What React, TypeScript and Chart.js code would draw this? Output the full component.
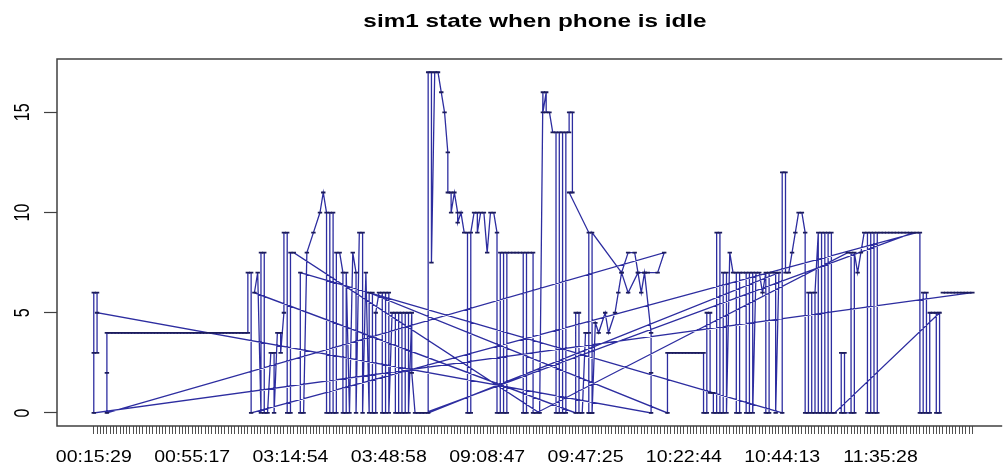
import React, { useEffect, useRef } from "react";
import { Chart, registerables } from "chart.js";

Chart.register(...registerables);

const chartTitle = "sim1 state when phone is idle";
const timeTickLabels = ["00:15:29", "00:55:17", "03:14:54", "03:48:58", "09:08:47", "09:47:25", "10:22:44", "10:44:13", "11:35:28"];
const timeTickSlots = [0, 30, 60, 90, 120, 150, 180, 210, 240];
const slotCount = 269;
const stateTicks = [0, 5, 10, 15];

// records: [time slot index, sim1 state], in recording order, grouped by run
const runEvening = [[259,6],[260,6],[261,6],[262,6],[263,6],[264,6],[265,6],[266,6],[267,6],[268,6]];
const runDawn = [[0,0],[0,3],[0,6],[1,6],[1,3],[1,5]];
const runMorningLow = [[170,0],[170,2],[170,4],[168,7],[167,6],[166,7],[163,6],[161,7],[160,6],[159,5],[157,4],[156,5],[154,4],[153,4.5],[152,0],[151,0],[151,4],[150,4],[149,0],[148,0],[148,5],[147,5],[147,0]];
const runEarly = [[49,6],[50,7],[51,0],[51,8],[52,8],[52,0],[53,0],[54,3],[55,3],[55,0],[56,4],[57,4],[57,3],[58,5],[58,9],[59,9],[59,0],[60,0],[60,8],[61,8]];
const runMorningHigh = [[136,0],[137,16],[137,15],[138,16],[138,15],[139,15],[140,14],[141,14],[141,0],[142,0],[142,14],[143,14],[143,0],[144,0],[144,14],[145,14],[145,15],[146,15],[146,11],[145,11],[151,9],[151,0],[152,0],[152,9],[161,7],[163,8],[165,8],[166,7],[168,7],[169,7],[172,7],[174,8]];
const runNight = [[4,0],[4,2],[4,4],[5,4],[6,4],[7,4],[8,4],[9,4],[10,4],[11,4],[12,4],[13,4],[14,4],[15,4],[16,4],[17,4],[18,4],[19,4],[20,4],[21,4],[22,4],[23,4],[24,4],[25,4],[26,4],[27,4],[28,4],[29,4],[30,4],[31,4],[32,4],[33,4],[34,4],[35,4],[36,4],[37,4],[38,4],[39,4],[40,4],[41,4],[42,4],[43,4],[44,4],[45,4],[46,4],[47,4],[47,7],[48,7],[48,0]];
const runMiddayTail = [[251,9],[252,9],[252,0],[253,0],[253,6],[254,6],[254,0],[255,0],[255,5],[256,5],[257,5],[257,0],[258,0],[258,5]];
const runLateMorningB = [[226,0],[225,0],[225,9],[224,9],[224,0],[223,0],[223,9],[222,9],[222,0],[221,0],[221,9],[220,6],[220,0],[219,0],[219,6],[218,6],[218,0],[217,0],[217,9],[216,10],[215,10],[214,9],[213,8],[212,7],[211,7],[211,12],[210,12],[210,0]];
const runSmallHours = [[63,7],[63,0],[64,0],[65,8],[67,9],[69,10],[70,11],[71,10],[71,0],[72,0],[72,10],[73,10],[73,0],[74,0],[74,8],[75,8],[76,7],[76,0],[77,0],[77,7],[78,0],[79,8],[80,7],[80,0],[81,9],[82,9],[82,0],[83,7],[84,0],[84,6]];
const runLateMorningA = [[175,0],[175,3],[176,3],[177,3],[178,3],[179,3],[180,3],[181,3],[182,3],[183,3],[184,3],[185,3],[186,3],[186,0],[187,0],[187,5],[188,5],[188,1],[189,1],[189,0],[190,0],[190,9],[191,9],[191,0],[192,0],[192,7],[193,7],[193,0],[194,8],[195,7],[196,7],[196,0],[197,0],[197,7],[198,7],[199,7],[199,0],[200,0],[200,7],[201,7],[201,0],[202,7],[203,7],[204,6],[205,7],[205,0],[206,0],[206,7],[207,7],[208,7],[208,0],[209,7]];
const runForenoonB = [[102,0],[102,17],[103,17],[103,7.5],[104,17],[105,17],[106,16],[107,15],[108,13],[108,11],[109,11],[109,10],[110,11],[111,10],[111,9.5],[112,10],[113,9],[114,9],[114,0],[115,0],[115,9],[116,10],[117,10],[117,9],[118,10],[119,10],[120,8],[121,10],[122,10],[123,9],[123,0],[124,0],[124,8],[125,8],[125,0],[126,0],[126,8],[127,8],[128,8],[129,8],[130,8],[131,8],[131,0],[132,0],[132,8],[133,8],[134,8],[134,0],[135,0]];
const runMiddayHead = [[230,8],[231,8],[231,0],[229,0],[229,3],[228,3],[228,0],[232,0],[232,8],[233,7],[234,8],[235,9],[236,9],[236,0],[237,0],[237,9],[238,9],[238,0],[239,0],[239,9],[240,9],[241,9],[242,9],[243,9],[244,9],[245,9],[246,9],[247,9],[248,9],[249,9],[250,9]];
const runForenoonA = [[101,0],[100,0],[99,0],[98,0],[97,2],[97,5],[96,0],[96,5],[95,5],[95,0],[94,0],[94,5],[93,5],[93,0],[92,0],[92,5],[91,5],[90,0],[90,6],[89,6],[89,0],[88,0],[88,6],[87,6],[86,5],[86,0],[85,0],[85,6]];

const recordingOrder = [
  runEvening, runDawn, runMorningLow, runEarly, runMorningHigh, runNight, runMiddayTail,
  runLateMorningB, runSmallHours, runLateMorningA, runForenoonB, runMiddayHead, runForenoonA,
];

const decorPlugin = {
  id: "decor",
  afterDraw(chart: any) {
    const { ctx, chartArea, scales } = chart;
    ctx.save();
    // box (right side falls outside the picture)
    ctx.strokeStyle = "#404040";
    ctx.lineWidth = 1.5;
    ctx.beginPath();
    ctx.moveTo(chartArea.right + 5, chartArea.top);
    ctx.lineTo(chartArea.left, chartArea.top);
    ctx.lineTo(chartArea.left, chartArea.bottom);
    ctx.lineTo(chartArea.right + 5, chartArea.bottom);
    ctx.stroke();

    ctx.fillStyle = "#000";
    // title
    ctx.save();
    ctx.font = 'bold 19px "Liberation Sans", Arial, sans-serif';
    ctx.textAlign = "center";
    ctx.textBaseline = "alphabetic";
    ctx.translate(535, 27);
    ctx.scale(1.28, 1);
    ctx.fillText(chartTitle, 0, 0);
    ctx.restore();

    // x labels
    ctx.font = '16px "Liberation Sans", Arial, sans-serif';
    timeTickLabels.forEach((lab, k) => {
      const px = scales.x.getPixelForValue(timeTickSlots[k]);
      ctx.save();
      ctx.textAlign = "center";
      ctx.textBaseline = "alphabetic";
      ctx.translate(px, 462);
      ctx.scale(1.22, 1);
      ctx.fillText(lab, 0, 0);
      ctx.restore();
    });

    // y labels (rotated, R style)
    stateTicks.forEach((v) => {
      const py = scales.y.getPixelForValue(v);
      ctx.save();
      ctx.textAlign = "center";
      ctx.textBaseline = "alphabetic";
      ctx.translate(29, py);
      ctx.rotate(-Math.PI / 2);
      ctx.scale(1, 1.35);
      ctx.fillText(String(v), 0, 0);
      ctx.restore();
    });
    ctx.restore();
  },
};

export default function App() {
  const ref = useRef<HTMLCanvasElement>(null);
  useEffect(() => {
    const canvas = ref.current;
    if (!canvas) return;
    const points = recordingOrder.flat().map(([s, v]) => ({ x: s, y: v }));
    const slotTicks = Array.from({ length: slotCount }, (_, i) => ({ value: i }));
    const chart = new Chart(canvas, {
      type: "line",
      data: {
        datasets: [
          {
            data: points,
            borderColor: "rgba(22,22,150,0.9)",
            borderWidth: 1.3,
            tension: 0,
            fill: false,
            pointStyle: "line",
            pointRadius: 2.2,
            pointBorderWidth: 1.8,
            pointBorderColor: "#1c1c5c",
            pointBackgroundColor: "#1c1c5c",
          },
        ],
      },
      options: {
        animation: false,
        responsive: false,
        maintainAspectRatio: false,
        layout: { padding: { top: 59, left: 0, right: 0, bottom: 0 } },
        plugins: { legend: { display: false }, title: { display: false }, tooltip: { enabled: false } },
        scales: {
          x: {
            type: "linear",
            min: -11.22,
            max: 275.58,
            afterBuildTicks: (axis: any) => {
              axis.ticks = slotTicks.map((t) => ({ ...t }));
            },
            afterFit: (axis: any) => {
              axis.height = 40;
            },
            ticks: { display: false },
            grid: { drawOnChartArea: false, drawTicks: true, tickLength: 8, tickColor: "#505050", tickWidth: 1 },
            border: { display: false },
          },
          y: {
            min: -0.65,
            max: 17.66,
            afterBuildTicks: (axis: any) => {
              axis.ticks = stateTicks.map((v) => ({ value: v }));
            },
            afterFit: (axis: any) => {
              axis.width = 57;
            },
            ticks: { display: false },
            grid: { drawOnChartArea: false, drawTicks: true, tickLength: 13, tickColor: "#404040", tickWidth: 1.2 },
            border: { display: false },
          },
        },
      },
      plugins: [decorPlugin],
    } as any);
    return () => chart.destroy();
  }, []);
  return (
    <div style={{ position: "fixed", left: 0, top: 0, width: 1003, height: 466, background: "#fff" }}>
      <canvas ref={ref} width={1003} height={466} style={{ display: "block" }} />
    </div>
  );
}
